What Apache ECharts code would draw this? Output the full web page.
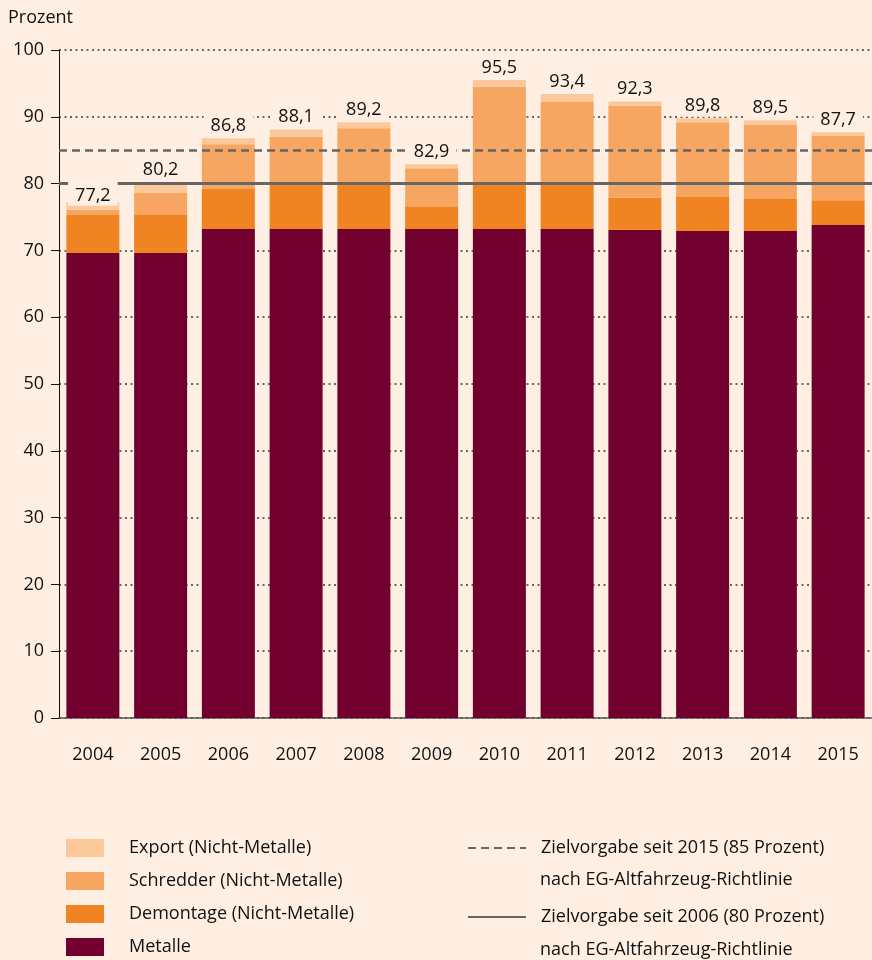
<!DOCTYPE html>
<html>
<head>
<meta charset="utf-8">
<script src="https://cdn.jsdelivr.net/npm/echarts@6/dist/echarts.min.js"></script>
<style>
html,body{margin:0;padding:0;background:#FEEFE2;}
#c{width:872px;height:960px;}
</style>
</head>
<body>
<div id="c"></div>
<script>
// ---- data ----
const years = ['2004','2005','2006','2007','2008','2009','2010','2011','2012','2013','2014','2015'];
const metalle   = [69.6, 69.6, 73.2, 73.2, 73.2, 73.2, 73.2, 73.2, 73.1, 72.9, 72.9, 73.8];
const demontage = [5.7, 5.7, 6.0, 6.8, 6.8, 3.4, 6.8, 6.8, 4.8, 5.1, 4.8, 3.7];
const schredder = [0.8, 3.3, 6.7, 7.0, 8.3, 5.7, 14.5, 12.2, 13.8, 11.2, 11.1, 9.7];
const exportNM  = [1.1, 1.6, 0.9, 1.1, 0.9, 0.6, 1.0, 1.2, 0.6, 0.6, 0.7, 0.5];
const totals    = [77.2, 80.2, 86.8, 88.1, 89.2, 82.9, 95.5, 93.4, 92.3, 89.8, 89.5, 87.7];
const barNames  = ['Metalle', 'Demontage (Nicht-Metalle)', 'Schredder (Nicht-Metalle)', 'Export (Nicht-Metalle)'];
const targetNames  = ['Zielvorgabe seit 2015 (85 Prozent)', 'Zielvorgabe seit 2006 (80 Prozent)'];
const targetValues = [85, 80];
const targetNote   = 'nach EG-Altfahrzeug-Richtlinie';
const yMin = 0, yMax = 100, yStep = 10;
const yTitle = 'Prozent';

// ---- styling ----
const BG = '#FEEFE2';
const FONT = 'Open Sans';
const TXT = '#111111';
const barColors = ['#72002F', '#F08322', '#F7A661', '#FCC89B'];
const barSeriesData = [metalle, demontage, schredder, exportNM];

const chart = echarts.init(document.getElementById('c'), null, {renderer: 'canvas'});

const series = barSeriesData.map((d, i) => ({
  name: barNames[i],
  type: 'bar',
  stack: 'total',
  data: d,
  barWidth: 53,
  itemStyle: {color: barColors[i]},
  emphasis: {disabled: true},
  z: 2
}));

const lineStyles = [
  {type: [8, 5], width: 2.5, color: '#666'},
  {type: 'solid', width: 3, color: '#666'}
];
targetNames.forEach((n, i) => {
  series.push({
    name: n,
    type: 'line',
    data: [],
    symbol: 'none',
    itemStyle: {color: '#666', opacity: 0},
    lineStyle: lineStyles[i],
    z: 5,
    markLine: {
      silent: true,
      symbol: ['none', 'none'],
      label: {show: false},
      lineStyle: lineStyles[i],
      data: [{yAxis: targetValues[i]}],
      z: 5
    }
  });
});

series.push({
  type: 'scatter',
  data: totals.map((v, i) => i === 0 ? {value: v, label: {distance: -4, padding: [6, 7, 0, 7]}} : v),
  symbolSize: 1,
  itemStyle: {color: 'rgba(0,0,0,0)', opacity: 1},
  emphasis: {disabled: true},
  silent: true,
  z: 10,
  label: {
    show: true,
    position: 'top',
    distance: 1,
    formatter: p => (Array.isArray(p.value) ? p.value[1] : p.value).toFixed(1).replace('.', ','),
    fontFamily: FONT,
    fontSize: 18,
    color: TXT,
    opacity: 1,
    backgroundColor: BG,
    padding: [1, 7],
    lineHeight: 20
  }
});

chart.setOption({
  backgroundColor: BG,
  animation: false,
  textStyle: {fontFamily: FONT},
  title: {
    text: yTitle,
    left: 8,
    top: 9,
    padding: 0,
    textStyle: {fontFamily: FONT, fontSize: 18, fontWeight: 'normal', color: TXT}
  },
  grid: {left: 59, top: 50, width: 817, height: 668, containLabel: false},
  xAxis: {
    type: 'category',
    data: years,
    axisLine: {lineStyle: {color: '#555', width: 1.5}},
    axisTick: {show: false},
    axisLabel: {fontFamily: FONT, fontSize: 18, color: TXT, margin: 28},
    splitLine: {show: false}
  },
  yAxis: {
    type: 'value',
    min: yMin, max: yMax, interval: yStep,
    axisLine: {show: true, lineStyle: {color: '#111', width: 1}},
    axisTick: {show: true, length: 8, lineStyle: {color: '#111'}},
    axisLabel: {fontFamily: FONT, fontSize: 18, color: TXT, margin: 15},
    splitLine: {show: true, lineStyle: {type: [2, 3.5], color: '#666', width: 2}}
  },
  legend: [
    {
      orient: 'vertical',
      left: 66,
      top: 839,
      height: 121,
      padding: 0,
      itemWidth: 38,
      itemHeight: 18,
      itemGap: 15,
      icon: 'rect',
      selectedMode: false,
      data: [barNames[3], barNames[2], barNames[1], barNames[0]],
      textStyle: {fontFamily: FONT, fontSize: 18, color: TXT, lineHeight: 18, padding: [0, 0, 0, 20]}
    },
    {
      orient: 'vertical',
      left: 467,
      top: 839,
      height: 121,
      padding: 0,
      itemWidth: 58,
      itemHeight: 18,
      itemGap: 51,
      selectedMode: false,
      itemStyle: {opacity: 0},
      data: targetNames,
      textStyle: {fontFamily: FONT, fontSize: 18, color: TXT, lineHeight: 18, padding: [0, 0, 0, 10]}
    }
  ],
  graphic: [
    {type: 'text', left: 540, top: 871, style: {text: targetNote, fontFamily: FONT, fontSize: 18, fill: TXT}},
    {type: 'text', left: 540, top: 941, style: {text: targetNote, fontFamily: FONT, fontSize: 18, fill: TXT}}
  ],
  series: series
});
</script>
</body>
</html>
